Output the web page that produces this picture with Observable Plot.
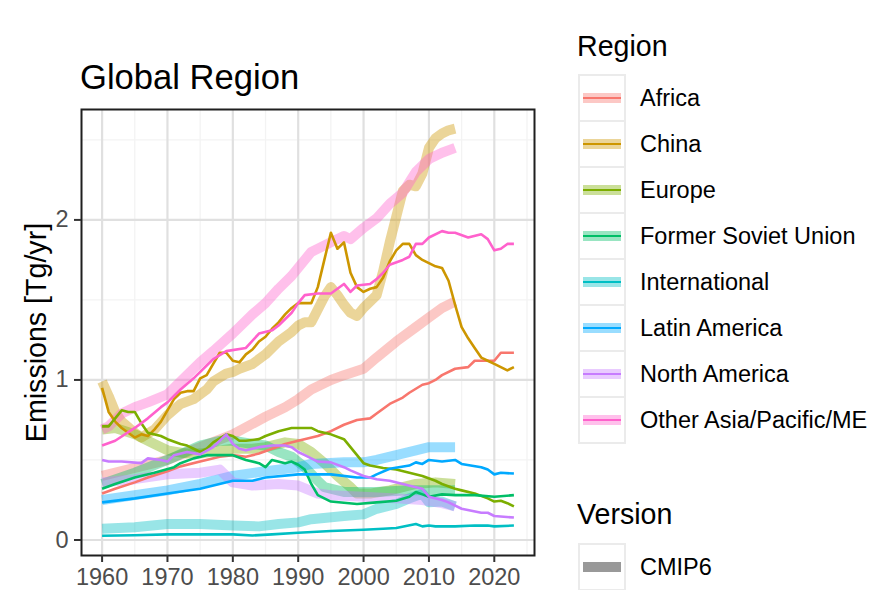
<!DOCTYPE html>
<html><head><meta charset="utf-8">
<script src="https://cdn.jsdelivr.net/npm/d3@7"></script>
<script src="https://cdn.jsdelivr.net/npm/@observablehq/plot@0.6"></script>
<style>
html,body{margin:0;padding:0;background:#fff;}
#wrap{position:relative;width:887px;height:590px;overflow:hidden;font-family:"Liberation Sans",Arial,Helvetica,sans-serif;color:#000;}
#wrap svg{position:absolute;left:0;top:0;}
.abs{position:absolute;white-space:nowrap;}
</style></head><body><div id="wrap"></div><script>
const chartTitle = "Global Region";
const yLabel = "Emissions [Tg/yr]";
const regions = ["Africa","China","Europe","Former Soviet Union","International","Latin America","North America","Other Asia/Pacific/ME"];
const regionColors = ["#F8766D","#CD9600","#7CAE00","#00BE67","#00BFC4","#00A9FF","#C77CFF","#FF61CC"];
const versions = ["CMIP6"];
const xMajor = [1960,1970,1980,1990,2000,2010,2020];
const xMinor = [1965,1975,1985,1995,2005,2015,2025];
const yMajor = [0,1,2];
const yMinor = [0.5,1.5,2.5];

// CMIP6 (thick, translucent) series: [year, Tg/yr]
const africa_cmip6 = [[1960,0.40],[1965,0.45],[1970,0.50],[1975,0.58],[1980,0.66],[1985,0.77],[1988,0.83],[1990,0.88],[1992,0.94],[1995,1.00],[1997,1.03],[2000,1.07],[2002,1.14],[2005,1.24],[2008,1.33],[2010,1.39],[2012,1.45],[2014,1.49]];
const china_cmip6 = [[1960,0.99],[1961,0.90],[1962,0.80],[1963,0.74],[1965,0.67],[1966,0.64],[1968,0.69],[1970,0.78],[1972,0.85],[1974,0.88],[1976,0.94],[1977,0.99],[1979,1.04],[1980,1.05],[1981,1.07],[1983,1.10],[1985,1.16],[1987,1.24],[1989,1.30],[1990,1.34],[1991,1.36],[1992,1.36],[1993,1.44],[1994,1.52],[1995,1.58],[1996,1.53],[1997,1.47],[1998,1.42],[1999,1.40],[2000,1.45],[2002,1.53],[2003,1.68],[2004,1.86],[2005,2.02],[2006,2.18],[2007,2.22],[2008,2.21],[2009,2.29],[2010,2.45],[2011,2.51],[2012,2.54],[2013,2.56],[2014,2.57]];
const europe_cmip6 = [[1960,0.69],[1962,0.70],[1965,0.66],[1968,0.60],[1970,0.56],[1973,0.54],[1975,0.54],[1978,0.56],[1980,0.57],[1983,0.57],[1985,0.58],[1988,0.61],[1990,0.60],[1992,0.55],[1994,0.48],[1996,0.40],[1998,0.33],[1999,0.29],[2001,0.29],[2004,0.31],[2008,0.35],[2011,0.36],[2014,0.35]];
const fsu_cmip6 = [[1960,0.35],[1965,0.42],[1970,0.50],[1975,0.59],[1978,0.62],[1980,0.62],[1983,0.60],[1985,0.59],[1987,0.55],[1989,0.52],[1991,0.455],[1993,0.37],[1994,0.33],[1997,0.30],[2002,0.30],[2007,0.31],[2010,0.31],[2014,0.31]];
const intl_cmip6 = [[1960,0.07],[1965,0.08],[1970,0.10],[1975,0.10],[1980,0.09],[1984,0.085],[1987,0.10],[1990,0.11],[1992,0.13],[1997,0.15],[2000,0.16],[2002,0.195],[2005,0.225],[2007,0.26],[2009,0.29],[2010,0.235],[2012,0.24],[2014,0.21]];
const latam_cmip6 = [[1960,0.25],[1965,0.28],[1970,0.31],[1975,0.35],[1980,0.40],[1985,0.43],[1990,0.455],[1992,0.475],[1997,0.485],[2000,0.485],[2002,0.50],[2005,0.53],[2008,0.56],[2010,0.58],[2014,0.58]];
const namer_cmip6 = [[1960,0.36],[1965,0.38],[1970,0.41],[1975,0.42],[1978,0.44],[1980,0.36],[1983,0.34],[1987,0.35],[1990,0.34],[1993,0.29],[1995,0.28],[2000,0.27],[2005,0.26],[2009,0.25],[2012,0.23],[2014,0.21]];
const asia_cmip6 = [[1960,0.69],[1961,0.71],[1962,0.75],[1963,0.79],[1965,0.83],[1967,0.86],[1970,0.91],[1973,1.03],[1975,1.11],[1977,1.18],[1980,1.29],[1983,1.41],[1985,1.48],[1987,1.57],[1989,1.65],[1990,1.70],[1992,1.80],[1995,1.86],[1997,1.90],[1998,1.88],[2000,1.95],[2002,2.01],[2004,2.10],[2006,2.17],[2008,2.30],[2010,2.38],[2012,2.42],[2014,2.45]];

// Latest release (thin) series: [year, Tg/yr]
const africa_latest = [[1960,0.29],[1962,0.32],[1965,0.36],[1967,0.39],[1970,0.43],[1972,0.46],[1975,0.49],[1978,0.52],[1980,0.53],[1982,0.52],[1984,0.54],[1986,0.57],[1988,0.60],[1990,0.62],[1993,0.65],[1995,0.68],[1997,0.72],[1999,0.75],[2001,0.76],[2002,0.79],[2004,0.85],[2006,0.89],[2007,0.92],[2009,0.97],[2010,0.98],[2011,1.00],[2012,1.03],[2014,1.07],[2016,1.08],[2017,1.12],[2019,1.12],[2020,1.12],[2021,1.17],[2023,1.17]];
const china_latest = [[1960,0.95],[1961,0.80],[1962,0.74],[1963,0.70],[1965,0.64],[1966,0.66],[1967,0.65],[1968,0.69],[1969,0.74],[1970,0.81],[1971,0.88],[1972,0.92],[1973,0.93],[1974,0.93],[1975,1.01],[1976,1.03],[1977,1.10],[1978,1.17],[1979,1.17],[1980,1.12],[1981,1.11],[1982,1.16],[1983,1.19],[1984,1.24],[1985,1.27],[1986,1.32],[1987,1.36],[1988,1.41],[1989,1.45],[1990,1.48],[1992,1.48],[1993,1.58],[1994,1.75],[1995,1.92],[1996,1.82],[1997,1.86],[1998,1.67],[1999,1.58],[2000,1.55],[2001,1.57],[2002,1.58],[2003,1.64],[2004,1.74],[2005,1.81],[2006,1.85],[2007,1.85],[2008,1.78],[2009,1.75],[2010,1.73],[2011,1.71],[2012,1.70],[2013,1.62],[2014,1.47],[2015,1.33],[2016,1.26],[2017,1.20],[2018,1.14],[2019,1.12],[2020,1.10],[2021,1.08],[2022,1.06],[2023,1.08]];
const europe_latest = [[1960,0.71],[1961,0.71],[1962,0.76],[1963,0.81],[1964,0.80],[1965,0.80],[1966,0.73],[1967,0.67],[1969,0.65],[1970,0.63],[1972,0.60],[1973,0.59],[1974,0.57],[1975,0.55],[1976,0.57],[1977,0.61],[1979,0.66],[1980,0.65],[1981,0.62],[1982,0.62],[1984,0.63],[1985,0.65],[1987,0.68],[1989,0.70],[1991,0.70],[1992,0.70],[1993,0.68],[1995,0.66],[1997,0.63],[1998,0.58],[1999,0.53],[2000,0.48],[2001,0.465],[2003,0.45],[2005,0.44],[2007,0.42],[2009,0.40],[2011,0.37],[2012,0.35],[2014,0.32],[2015,0.31],[2017,0.29],[2019,0.26],[2020,0.24],[2021,0.245],[2022,0.23],[2023,0.21]];
const fsu_latest = [[1960,0.32],[1962,0.35],[1965,0.39],[1968,0.42],[1971,0.455],[1972,0.48],[1974,0.51],[1976,0.53],[1978,0.53],[1980,0.53],[1982,0.50],[1984,0.48],[1985,0.455],[1986,0.50],[1988,0.48],[1989,0.49],[1990,0.47],[1991,0.44],[1992,0.35],[1993,0.28],[1995,0.24],[1999,0.225],[2002,0.235],[2005,0.245],[2007,0.27],[2008,0.30],[2009,0.285],[2010,0.27],[2012,0.285],[2014,0.28],[2017,0.28],[2020,0.27],[2023,0.28]];
const intl_latest = [[1960,0.026],[1965,0.03],[1970,0.035],[1975,0.035],[1980,0.035],[1983,0.028],[1986,0.035],[1990,0.045],[1995,0.056],[2000,0.064],[2003,0.07],[2005,0.075],[2008,0.10],[2009,0.085],[2010,0.09],[2011,0.085],[2014,0.085],[2017,0.09],[2019,0.09],[2020,0.085],[2023,0.09]];
const latam_latest = [[1960,0.235],[1965,0.26],[1970,0.29],[1975,0.32],[1980,0.37],[1983,0.37],[1985,0.39],[1990,0.41],[1995,0.41],[1999,0.39],[2001,0.39],[2002,0.41],[2004,0.445],[2007,0.465],[2008,0.485],[2009,0.475],[2010,0.50],[2012,0.49],[2014,0.50],[2015,0.475],[2018,0.455],[2019,0.44],[2020,0.41],[2021,0.42],[2023,0.415]];
const namer_latest = [[1960,0.50],[1961,0.49],[1963,0.49],[1966,0.48],[1967,0.51],[1969,0.50],[1970,0.49],[1971,0.53],[1973,0.55],[1975,0.535],[1977,0.58],[1979,0.66],[1980,0.60],[1981,0.57],[1982,0.56],[1984,0.58],[1986,0.59],[1988,0.59],[1989,0.58],[1990,0.55],[1991,0.53],[1992,0.51],[1993,0.49],[1995,0.485],[1997,0.455],[1998,0.435],[2000,0.40],[2002,0.38],[2004,0.37],[2006,0.35],[2008,0.33],[2009,0.32],[2010,0.27],[2012,0.25],[2013,0.235],[2015,0.195],[2018,0.17],[2019,0.17],[2020,0.15],[2023,0.14]];
const asia_latest = [[1960,0.59],[1962,0.62],[1965,0.70],[1967,0.76],[1969,0.83],[1970,0.86],[1972,0.94],[1974,1.01],[1976,1.09],[1977,1.13],[1979,1.18],[1982,1.20],[1984,1.29],[1986,1.31],[1987,1.34],[1989,1.42],[1990,1.48],[1991,1.53],[1993,1.54],[1995,1.54],[1997,1.60],[1998,1.55],[1999,1.59],[2001,1.60],[2002,1.63],[2003,1.67],[2004,1.72],[2006,1.75],[2007,1.77],[2008,1.85],[2009,1.85],[2010,1.89],[2012,1.93],[2013,1.92],[2014,1.92],[2016,1.89],[2018,1.91],[2019,1.88],[2020,1.81],[2021,1.82],[2022,1.85],[2023,1.85]];

const cmip6Series = [africa_cmip6, china_cmip6, europe_cmip6, fsu_cmip6, intl_cmip6, latam_cmip6, namer_cmip6, asia_cmip6];
const latestSeries = [africa_latest, china_latest, europe_latest, fsu_latest, intl_latest, latam_latest, namer_latest, asia_latest];

const toRows = (list, version) => list.flatMap((pts, i) => pts.map(([year, value]) => ({region: regions[i], version, year, value})));
const cmip6Rows = toRows(cmip6Series, "CMIP6");
const latestRows = toRows(latestSeries, "latest");

const FONT = '"Liberation Sans", Arial, Helvetica, sans-serif';
const chart = Plot.plot({
  width: 887, height: 590,
  marginLeft: 81, marginRight: 353, marginTop: 109, marginBottom: 35,
  x: {domain: [1956.85, 2026.15], label: null},
  y: {domain: [-0.097, 2.69], label: null},
  color: {domain: regions, range: regionColors},
  style: {fontFamily: FONT, fontSize: "23.5px", background: "white", overflow: "visible"},
  marks: [
    Plot.gridX(xMinor, {stroke: "#F3F3F3", strokeOpacity: 1, strokeWidth: 1.3}),
    Plot.gridY(yMinor, {stroke: "#F3F3F3", strokeOpacity: 1, strokeWidth: 1.3}),
    Plot.gridX(xMajor, {stroke: "#E0E0E0", strokeOpacity: 1, strokeWidth: 2.2}),
    Plot.gridY(yMajor, {stroke: "#E0E0E0", strokeOpacity: 1, strokeWidth: 2.2}),
    Plot.line(cmip6Rows, {x: "year", y: "value", z: "region", stroke: "region", strokeWidth: 10, strokeOpacity: 0.4, strokeLinejoin: "round", strokeLinecap: "butt", curve: "linear"}),
    Plot.line(latestRows, {x: "year", y: "value", z: "region", stroke: "region", strokeWidth: 2.6, strokeLinejoin: "round", strokeLinecap: "butt", curve: "linear"}),
    Plot.frame({stroke: "#1f1f1f", strokeWidth: 2}),
    Plot.axisX(xMajor, {tickSize: 7, tickPadding: 6, stroke: "#333", strokeWidth: 2, fill: "#4D4D4D", tickFormat: d => String(d), label: null}),
    Plot.axisY(yMajor, {tickSize: 7, tickPadding: 6, stroke: "#333", strokeWidth: 2, fill: "#4D4D4D", tickFormat: d => String(d), label: null}),
    Plot.text([yLabel], {frameAnchor: "left", textAnchor: "middle", lineAnchor: "middle", dx: -45, rotate: -90, fontSize: 28.6, fill: "black", text: d => d})
  ]
});
const wrap = document.getElementById("wrap");
wrap.appendChild(chart);

function addText(txt, left, top, size, extra) {
  const d = document.createElement("div");
  d.className = "abs";
  d.textContent = txt;
  d.style.left = left + "px";
  d.style.top = top + "px";
  d.style.fontSize = size + "px";
  d.style.lineHeight = "1";
  if (extra) Object.assign(d.style, extra);
  wrap.appendChild(d);
  return d;
}
function addBox(left, top, w, h, style) {
  const d = document.createElement("div");
  d.className = "abs";
  Object.assign(d.style, {left: left + "px", top: top + "px", width: w + "px", height: h + "px", boxSizing: "border-box"}, style);
  wrap.appendChild(d);
  return d;
}

// Title
addText(chartTitle, 80, 60, 34.6);

// Region legend
addText("Region", 577, 32, 28.6);
const keyLeft = 578, keyW = 48, rowH = 46, rowTop0 = 74;
regions.forEach((r, i) => {
  const top = rowTop0 + rowH * i;
  addBox(keyLeft, top, keyW, rowH + 2, {border: "2px solid #EBEBEB", background: "white"});
  addBox(keyLeft + 5, top + rowH / 2 + 1 - 5, keyW - 10, 10, {background: regionColors[i], opacity: 0.4});
  addBox(keyLeft + 5, top + rowH / 2 + 1 - 1.3, keyW - 10, 2.6, {background: regionColors[i]});
  addText(r, 640, top + 1, 23.5, {lineHeight: rowH + "px"});
});

// Version legend
addText("Version", 577, 500, 28.6);
versions.forEach((v, i) => {
  const top = 543 + rowH * i;
  addBox(keyLeft, top, keyW, rowH + 2, {border: "2px solid #EBEBEB", background: "white"});
  addBox(keyLeft + 5, top + rowH / 2 + 1 - 5, keyW - 10, 10, {background: "#000", opacity: 0.4});
  addText(v, 640, top + 1, 23.5, {lineHeight: rowH + "px"});
});
</script></body></html>
